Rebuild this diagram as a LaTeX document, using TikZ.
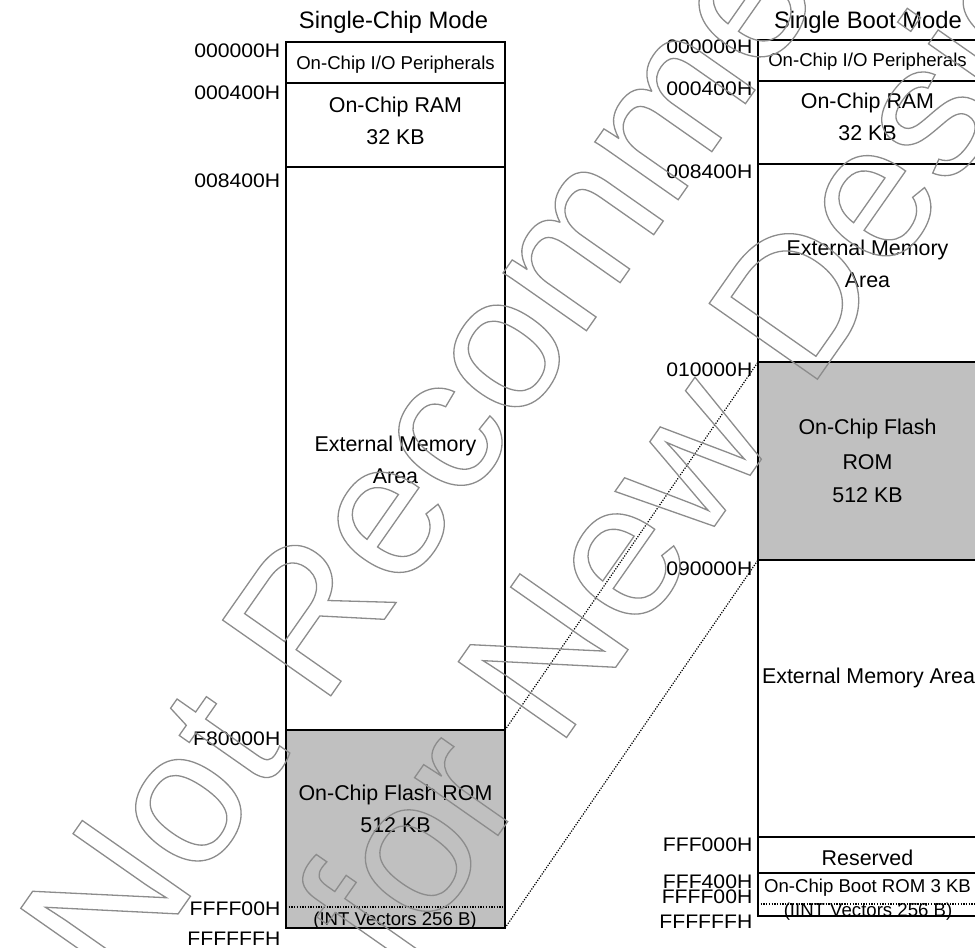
\documentclass[tikz,border=0pt]{standalone}
\usepackage{fontspec}
\setmainfont{Liberation Sans}
\newfontfamily\labfont[FakeStretch=1.08]{Liberation Sans}
\definecolor{flashgray}{RGB}{192,192,192}
\definecolor{wmgray}{RGB}{140,140,140}
\newcommand\outlinetext[1]{\special{pdf:literal 1 Tr 1.3 w 0.55 G}#1\special{pdf:literal 0 Tr}}
\begin{document}
\begin{tikzpicture}[x=1pt,y=-1pt,
  region/.style={draw, line width=1.9pt, inner sep=0pt, outer sep=0pt, anchor=north west, minimum width=219pt},
  lab/.style={anchor=base east, inner sep=0pt, font=\labfont\fontsize{19.6}{23}\selectfont},
  txt/.style={anchor=base, inner sep=0pt, font=\fontsize{21.4}{25}\selectfont},
  smalltxt/.style={anchor=base, inner sep=0pt, font=\fontsize{18.6}{22}\selectfont},
  ttl/.style={anchor=base, inner sep=0pt, font=\fontsize{23.8}{28}\selectfont},
  zoomline/.style={line width=1.2pt, dash pattern=on 1.2pt off 1.4pt},
  sepline/.style={line width=1.4pt, dash pattern=on 1.3pt off 1.4pt},
  wmark/.style={anchor=base, inner sep=0pt, rotate=55, text=wmgray, font=\fontsize{192}{211}\selectfont}
]
\useasboundingbox (0,0) rectangle (975,948);
\clip (0,0) rectangle (975,948);

% ---- left column: Single-Chip Mode ----
\node[region, minimum height=41pt] (lio) at (286,42) {};
\node[region, minimum height=84pt] (lram) at (286,83) {};
\node[region, minimum height=563pt] (lext) at (286,167) {};
\node[region, fill=flashgray, minimum height=198pt] (lflash) at (286,730) {};
\coordinate (lsepA) at (286,907);
\coordinate (lsepB) at (505,907);
\draw[sepline] (lsepA) -- (lsepB);

\node[ttl] (ltitle) at (393.5,28) {Single-Chip Mode};
\node[smalltxt] (liot) at (395.5,69) {On-Chip I/O Peripherals};
\node[txt] (lramt1) at (395.5,112) {On-Chip RAM};
\node[txt] (lramt2) at (395.5,144) {32 KB};
\node[txt] (lextt1) at (395.5,451) {External Memory};
\node[txt] (lextt2) at (395.5,483) {Area};
\node[txt] (lflt1) at (395.5,800) {On-Chip Flash ROM};
\node[txt] (lflt2) at (395.5,832) {512 KB};
\node[smalltxt] (lint) at (395,925) {(INT Vectors 256 B)};

\node[lab] (la1) at (280.5,57) {000000H};
\node[lab] (la2) at (280.5,99) {000400H};
\node[lab] (la3) at (280.5,187) {008400H};
\node[lab] (la4) at (280.5,745) {F80000H};
\node[lab] (la5) at (280.5,915) {FFFF00H};
\node[lab] (la6) at (280.5,945) {FFFFFFH};

% ---- right column: Single Boot Mode ----
\node[region, minimum height=41pt] (rio) at (758,40) {};
\node[region, minimum height=83pt] (rram) at (758,81) {};
\node[region, minimum height=198pt] (rext1) at (758,164) {};
\node[region, fill=flashgray, minimum height=198pt] (rflash) at (758,362) {};
\node[region, minimum height=277pt] (rext2) at (758,560) {};
\node[region, minimum height=36pt] (rres) at (758,837) {};
\node[region, minimum height=43pt] (rboot) at (758,873) {};
\coordinate (rsepA) at (758,904);
\coordinate (rsepB) at (977,904);
\draw[sepline] (rsepA) -- (rsepB);

\node[ttl] (rtitle) at (868,28) {Single Boot Mode};
\node[smalltxt] (riot) at (867.5,66.5) {On-Chip I/O Peripherals};
\node[txt] (rramt1) at (867.5,108) {On-Chip RAM};
\node[txt] (rramt2) at (867.5,140) {32 KB};
\node[txt] (rextt1) at (867.5,255) {External Memory};
\node[txt] (rextt2) at (867.5,287) {Area};
\node[txt] (rflt1) at (867.5,434) {On-Chip Flash};
\node[txt] (rflt2) at (867.5,469) {ROM};
\node[txt] (rflt3) at (867.5,502) {512 KB};
\node[txt] (rext2t) at (868.5,683) {External Memory Area};
\node[txt] (rrest) at (867.5,865) {Reserved};
\node[smalltxt] (rboott) at (867.5,892.5) {On-Chip Boot ROM 3 KB};
\node[smalltxt] (rint) at (868,916.5) {(IINT Vectors 256 B)};

\node[lab] (ra1) at (752.5,53) {000000H};
\node[lab] (ra2) at (752.5,95.5) {000400H};
\node[lab] (ra3) at (752.5,178) {008400H};
\node[lab] (ra4) at (752.5,376) {010000H};
\node[lab] (ra5) at (752.5,575.5) {090000H};
\node[lab] (ra6) at (752.5,851.5) {FFF000H};
\node[lab] (ra7) at (752.5,888) {FFF400H};
\node[lab] (ra8) at (752.5,903) {FFFF00H};
\node[lab] (ra9) at (752.5,928) {FFFFFFH};

% ---- zoom connectors ----
\draw[zoomline] (lflash.north east) -- (rflash.north west);
\draw[zoomline] (lflash.south east) -- (rflash.south west);

% ---- watermark ----
\node[wmark] (wm1) at (594.3,319.5) {\outlinetext{Not Recommended}};
\node[wmark] (wm2) at (774.9,439.9) {\outlinetext{for New Design}};
\end{tikzpicture}
\end{document}
